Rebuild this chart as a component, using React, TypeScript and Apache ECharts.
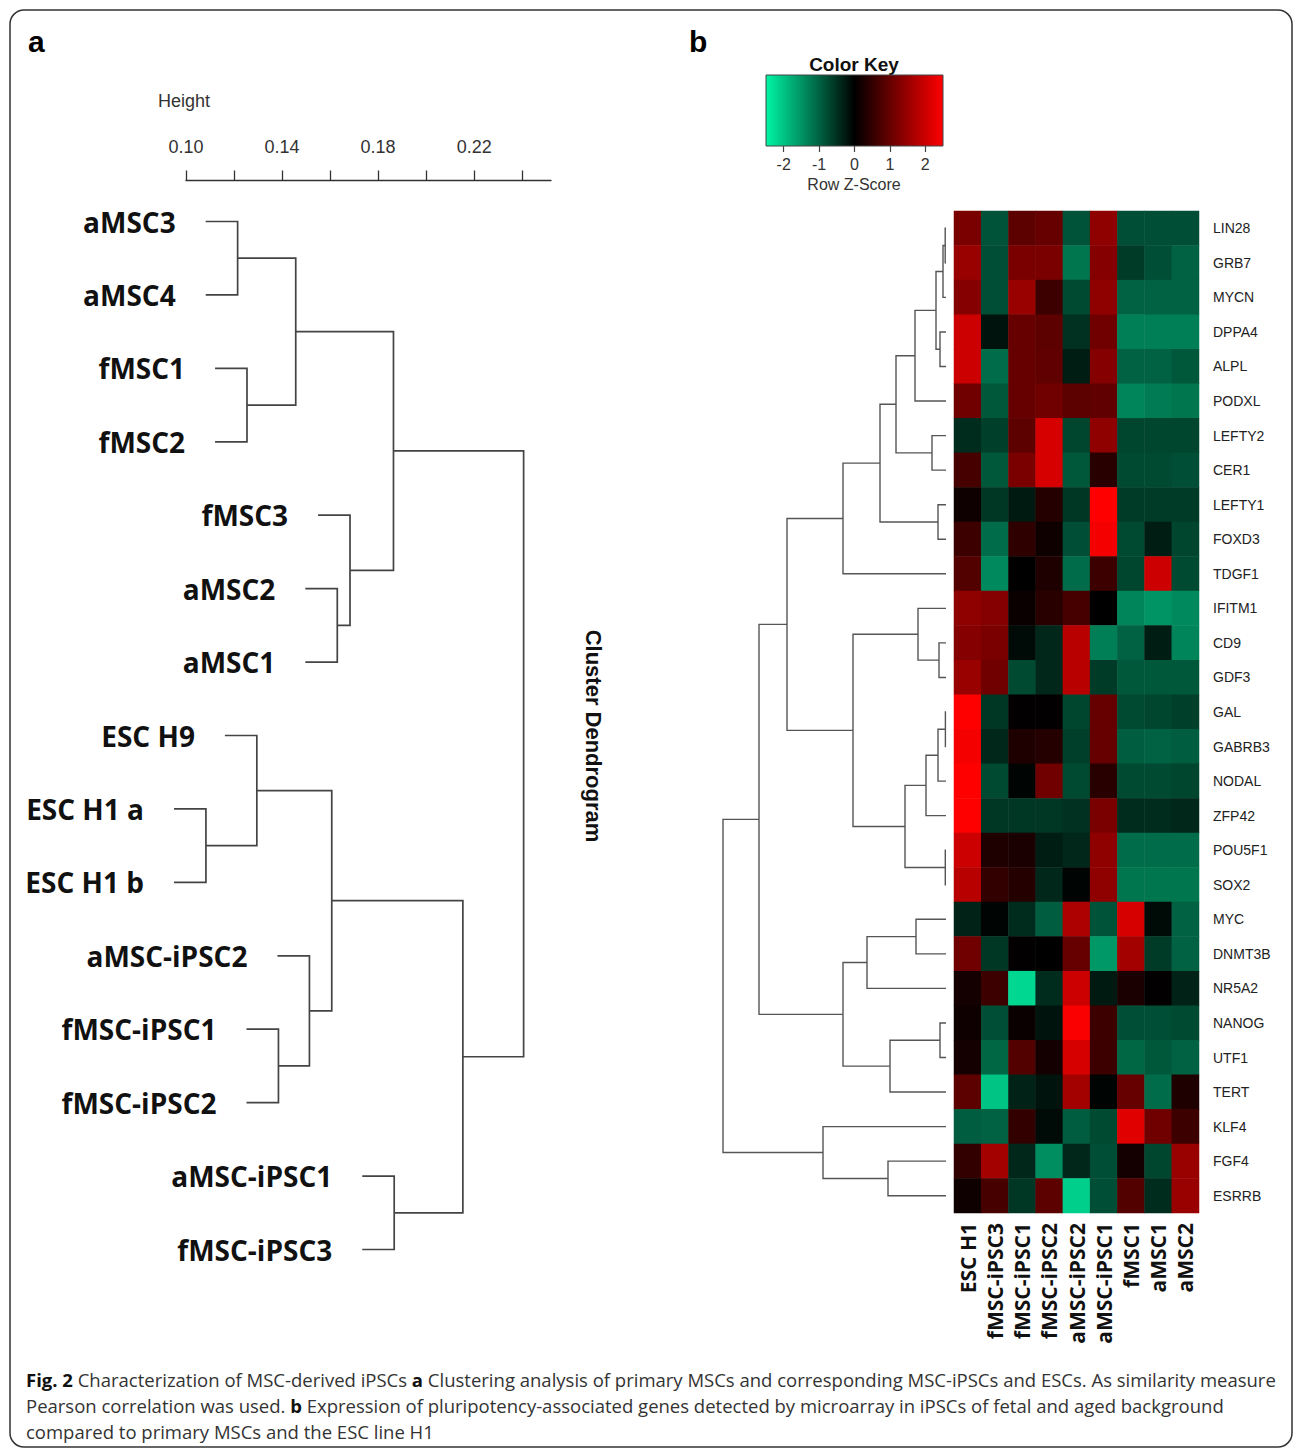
import React, { useEffect, useRef } from "react";
import * as echarts from "echarts";

// ---------- Panel a: cluster dendrogram ----------
const leavesA = [
  "aMSC3", "aMSC4", "fMSC1", "fMSC2", "fMSC3", "aMSC2", "aMSC1",
  "ESC H9", "ESC H1 a", "ESC H1 b", "aMSC-iPSC2", "fMSC-iPSC1",
  "fMSC-iPSC2", "aMSC-iPSC1", "fMSC-iPSC3",
];
// hclust-style merges: negative = leaf (1-based), positive = earlier merge (1-based)
const mergeA = [
  [-9, -10], [-1, -2], [-3, -4], [-8, 1], [-12, -13], [2, 3], [-11, 5],
  [4, 7], [-6, -7], [-5, 9], [6, 10], [-14, -15], [8, 12], [11, 13],
];
const heightA = [
  0.1083, 0.1215, 0.1254, 0.1295, 0.1385, 0.1457, 0.1514,
  0.1607, 0.163, 0.1683, 0.1864, 0.1867, 0.2153, 0.2406,
];
const hangA = 0.0133;
const heightTicks = [0.1, 0.12, 0.14, 0.16, 0.18, 0.2, 0.22, 0.24];
const heightTickLabels = [0.1, 0.14, 0.18, 0.22];

// ---------- Panel b: heatmap ----------
const sampleCols = [
  "ESC H1", "fMSC-iPSC3", "fMSC-iPSC1", "fMSC-iPSC2", "aMSC-iPSC2",
  "aMSC-iPSC1", "fMSC1", "aMSC1", "aMSC2",
];
const genes = [
  "LIN28", "GRB7", "MYCN", "DPPA4", "ALPL", "PODXL", "LEFTY2", "CER1",
  "LEFTY1", "FOXD3", "TDGF1", "IFITM1", "CD9", "GDF3", "GAL", "GABRB3",
  "NODAL", "ZFP42", "POU5F1", "SOX2", "MYC", "DNMT3B", "NR5A2", "NANOG",
  "UTF1", "TERT", "KLF4", "FGF4", "ESRRB",
];
const zLIN28 = [1.2, -0.85, 0.9, 1.0, -0.85, 1.4, -0.8, -0.8, -0.8];
const zGRB7 = [1.5, -0.8, 1.2, 1.2, -1.2, 1.3, -0.6, -0.8, -1.0];
const zMYCN = [1.3, -0.8, 1.5, 0.6, -0.75, 1.4, -1.0, -1.0, -1.0];
const zDPPA4 = [2.0, -0.2, 1.0, 0.9, -0.5, 1.1, -1.3, -1.3, -1.3];
const zALPL = [2.0, -1.1, 1.0, 0.95, -0.3, 1.3, -1.0, -1.0, -0.9];
const zPODXL = [1.1, -0.9, 1.0, 1.1, 0.9, 0.95, -1.35, -1.25, -1.2];
const zLEFTY2 = [-0.45, -0.65, 0.9, 2.1, -0.7, 1.4, -0.7, -0.7, -0.7];
const zCER1 = [0.7, -0.9, 1.2, 2.1, -0.9, 0.4, -0.75, -0.75, -0.8];
const zLEFTY1 = [0.15, -0.55, -0.25, 0.35, -0.55, 2.5, -0.6, -0.6, -0.6];
const zFOXD3 = [0.6, -1.1, 0.45, 0.15, -0.8, 2.4, -0.75, -0.3, -0.7];
const zTDGF1 = [0.8, -1.4, 0.0, 0.3, -1.1, 0.6, -0.7, 2.0, -0.75];
const zIFITM1 = [1.4, 1.3, 0.1, 0.4, 0.7, 0.0, -1.35, -1.5, -1.4];
const zCD9 = [1.3, 1.2, -0.1, -0.4, 1.8, -1.3, -1.0, -0.3, -1.35];
const zGDF3 = [1.5, 1.1, -0.75, -0.4, 1.8, -0.6, -0.9, -0.9, -0.9];
const zGAL = [2.5, -0.55, 0.02, 0.02, -0.7, 1.0, -0.75, -0.7, -0.65];
const zGABRB3 = [2.4, -0.4, 0.3, 0.35, -0.65, 1.0, -0.95, -1.0, -0.95];
const zNODAL = [2.5, -0.75, -0.05, 1.1, -0.75, 0.4, -0.75, -0.75, -0.7];
const zZFP42 = [2.5, -0.55, -0.55, -0.55, -0.5, 1.2, -0.45, -0.45, -0.4];
const zPOU5F1 = [2.0, 0.3, 0.25, -0.3, -0.4, 1.4, -1.1, -1.1, -1.1];
const zSOX2 = [1.8, 0.5, 0.35, -0.4, -0.05, 1.4, -1.2, -1.2, -1.2];
const zMYC = [-0.35, -0.05, -0.45, -0.95, 1.7, -0.85, 2.1, -0.1, -1.0];
const zDNMT3B = [1.1, -0.55, 0.02, 0.0, 1.0, -1.55, 1.6, -0.6, -1.0];
const zNR5A2 = [0.2, 0.6, -2.2, -0.45, 2.0, -0.25, 0.25, 0.02, -0.35];
const zNANOG = [0.15, -0.8, 0.1, -0.2, 2.45, 0.6, -0.8, -0.8, -0.75];
const zUTF1 = [0.2, -1.05, 0.8, 0.2, 2.1, 0.6, -1.05, -0.9, -1.0];
const zTERT = [0.9, -2.0, -0.35, -0.2, 1.6, -0.05, 1.0, -1.1, 0.3];
const zKLF4 = [-0.95, -1.0, 0.5, -0.1, -0.95, -0.75, 2.2, 1.1, 0.6];
const zFGF4 = [0.5, 1.6, -0.4, -1.45, -0.4, -0.8, 0.2, -0.7, 1.5];
const zESRRB = [0.15, 0.7, -0.55, 0.9, -2.1, -0.8, 0.8, -0.45, 1.5];
const zScores = [
  zLIN28, zGRB7, zMYCN, zDPPA4, zALPL, zPODXL, zLEFTY2, zCER1, zLEFTY1,
  zFOXD3, zTDGF1, zIFITM1, zCD9, zGDF3, zGAL, zGABRB3, zNODAL, zZFP42,
  zPOU5F1, zSOX2, zMYC, zDNMT3B, zNR5A2, zNANOG, zUTF1, zTERT, zKLF4,
  zFGF4, zESRRB,
];

// row dendrogram of the heatmap
const mergeB = [
  [-1, -2], [1, -3], [-4, -5], [2, 3], [4, -6], [-7, -8], [5, 6], [-9, -10],
  [7, 8], [9, -11], [-13, -14], [-12, 11], [-15, -16], [13, -17], [14, -18],
  [-19, -20], [15, 16], [12, 17], [10, 18], [-21, -22], [20, -23], [-24, -25],
  [22, -26], [21, 23], [19, 24], [-28, -29], [-27, 26], [25, 27],
];
const heightB = [
  0.008, 0.03, 0.06, 0.1, 0.31, 0.14, 0.5, 0.08, 0.66, 1.03, 0.07, 0.28,
  0.006, 0.08, 0.2, 0.007, 0.41, 0.93, 1.59, 0.3, 0.79, 0.06, 0.56, 1.03,
  1.87, 0.58, 1.23, 2.23,
];

const keyTicks = [-2, -1, 0, 1, 2];
const keyColors = ["#00F5A5", "#000000", "#FF0000"];

const captionLines = [
  "{b|Fig. 2} Characterization of MSC-derived iPSCs {b|a} Clustering analysis of primary MSCs and corresponding MSC-iPSCs and ESCs. As similarity measure",
  "Pearson correlation was used. {b|b} Expression of pluripotency-associated genes detected by microarray in iPSCs of fetal and aged background",
  "compared to primary MSCs and the ESC line H1",
];

function buildTree(merges: number[][], heights: number[], leafH: (h: number) => number) {
  const nodeY: number[] = [];
  const nodeH: number[] = [];
  const segs: number[][] = [];
  const leafStarts: number[][] = [];
  merges.forEach(([a, b], k) => {
    const h = heights[k];
    const info = (c: number) =>
      c < 0 ? { y: -c - 1, h: leafH(h) } : { y: nodeY[c - 1], h: nodeH[c - 1] };
    const A = info(a);
    const B = info(b);
    nodeY[k] = (A.y + B.y) / 2;
    nodeH[k] = h;
    segs.push([h, A.y, B.y, A.h, B.h]);
    if (a < 0) leafStarts.push([A.h, A.y]);
    if (b < 0) leafStarts.push([B.h, B.y]);
  });
  return { segs, leafStarts };
}

const LS = '"Liberation Sans", Arial, sans-serif';
const OS = '"Open Sans", sans-serif';
const CAP = 18.5;

export default function App() {
  const ref = useRef<HTMLDivElement>(null);
  useEffect(() => {
    if (!ref.current) return;
    const chart = echarts.init(ref.current, null, { renderer: "svg" });
    const treeA = buildTree(mergeA, heightA, (h) => h - hangA);
    const treeB = buildTree(mergeB, heightB, () => 0);
    const heatData: number[][] = [];
    zScores.forEach((row, r) => row.forEach((v, c) => heatData.push([c, r, v])));

    const dendroRender = (color: string, width: number) => (params: any, api: any) => {
      const h = api.value(0), ya = api.value(1), yb = api.value(2);
      const ha = api.value(3), hb = api.value(4);
      return {
        type: "polyline",
        shape: {
          points: [api.coord([ha, ya]), api.coord([h, ya]), api.coord([h, yb]), api.coord([hb, yb])],
        },
        style: { stroke: color, lineWidth: width, fill: "none" },
      };
    };

    const option: any = {
      animation: false,
      grid: [
        { left: 186, top: 221.5, width: 365, height: 1028 },
        { left: 954, top: 211, width: 245, height: 1002 },
        { left: 722, top: 211, width: 224, height: 1002 },
        { left: 766, top: 75, width: 177, height: 71 },
      ],
      xAxis: [
        {
          gridIndex: 0, type: "value", min: 0.1, max: 0.252, position: "top", offset: 41,
          axisLine: { show: true, onZero: false, lineStyle: { color: "#333", width: 1.3 } },
          axisTick: { show: true, length: 10, customValues: heightTicks, lineStyle: { color: "#333", width: 1.3 } },
          axisLabel: {
            customValues: heightTickLabels, formatter: (v: number) => v.toFixed(2),
            margin: 25, fontSize: 18, color: "#333", fontFamily: LS,
          },
          splitLine: { show: false },
        },
        {
          gridIndex: 1, type: "category", data: sampleCols, position: "bottom",
          axisLine: { show: false }, axisTick: { show: false },
          axisLabel: { interval: 0, rotate: 90, margin: 10, fontSize: 21, fontWeight: "bold", fontFamily: OS, color: "#111" },
        },
        { gridIndex: 2, type: "value", min: 0, max: 2.24, inverse: true, show: false },
        {
          gridIndex: 3, type: "value", min: -2.5, max: 2.5, position: "bottom",
          axisLine: { show: false },
          axisTick: { show: true, length: 6, customValues: keyTicks, lineStyle: { color: "#444", width: 1.2 } },
          axisLabel: { customValues: keyTicks, margin: 10, fontSize: 16, color: "#333", fontFamily: LS },
          splitLine: { show: false },
        },
      ],
      yAxis: [
        { gridIndex: 0, type: "value", min: 0, max: 14, inverse: true, show: false },
        {
          gridIndex: 1, type: "category", data: genes, inverse: true, position: "right",
          axisLine: { show: false }, axisTick: { show: false },
          axisLabel: { interval: 0, margin: 14, fontSize: 14, color: "#222", fontFamily: LS },
        },
        { gridIndex: 2, type: "value", min: -0.5, max: 28.5, inverse: true, show: false },
        { gridIndex: 3, type: "value", min: 0, max: 1, show: false },
      ],
      visualMap: {
        type: "continuous", min: -2.5, max: 2.5, show: false, seriesIndex: 0,
        inRange: { color: keyColors },
      },
      series: [
        {
          type: "heatmap", xAxisIndex: 1, yAxisIndex: 1, data: heatData,
          itemStyle: { borderWidth: 0 }, emphasis: { disabled: true },
        },
        {
          type: "custom", xAxisIndex: 0, yAxisIndex: 0, data: treeA.segs,
          renderItem: dendroRender("#444", 1.7), silent: true,
        },
        {
          type: "custom", xAxisIndex: 0, yAxisIndex: 0, data: treeA.leafStarts,
          silent: true,
          renderItem: (params: any, api: any) => {
            const p = api.coord([api.value(0), api.value(1)]);
            return {
              type: "text", x: p[0] - 30, y: p[1],
              style: {
                text: leavesA[api.value(1)], fontSize: 28, fontWeight: "bold", fontFamily: OS,
                fill: "#111", align: "right", verticalAlign: "middle",
                textAlign: "right", textVerticalAlign: "middle",
              },
            };
          },
        },
        {
          type: "custom", xAxisIndex: 2, yAxisIndex: 2, data: treeB.segs,
          renderItem: dendroRender("#555", 1.4), silent: true,
        },
        {
          type: "custom", xAxisIndex: 3, yAxisIndex: 3, data: [[-2.5, 2.5]], silent: true,
          renderItem: (params: any, api: any) => {
            const p0 = api.coord([api.value(0), 1]);
            const p1 = api.coord([api.value(1), 0]);
            return {
              type: "rect",
              shape: { x: p0[0], y: p0[1], width: p1[0] - p0[0], height: p1[1] - p0[1] },
              style: {
                fill: new echarts.graphic.LinearGradient(0, 0, 1, 0, [
                  { offset: 0, color: keyColors[0] },
                  { offset: 0.5, color: keyColors[1] },
                  { offset: 1, color: keyColors[2] },
                ]),
                stroke: "#444", lineWidth: 1,
              },
            };
          },
        },
      ],
      graphic: [
        {
          type: "rect", shape: { x: 10, y: 10, width: 1282, height: 1437, r: 14 },
          style: { fill: "none", stroke: "#333", lineWidth: 1.5 }, z: -10,
        },
        { type: "text", x: 28, y: 41, style: { text: "a", fontSize: 30, fontWeight: "bold", fontFamily: LS, fill: "#000", verticalAlign: "middle", textVerticalAlign: "middle" } },
        { type: "text", x: 689, y: 41, style: { text: "b", fontSize: 30, fontWeight: "bold", fontFamily: LS, fill: "#000", verticalAlign: "middle", textVerticalAlign: "middle" } },
        { type: "text", x: 158, y: 101, style: { text: "Height", fontSize: 18, fontFamily: LS, fill: "#333", verticalAlign: "middle", textVerticalAlign: "middle" } },
        {
          type: "text", x: 593, y: 736, rotation: -Math.PI / 2,
          style: { text: "Cluster Dendrogram", fontSize: 22, fontWeight: "bold", fontFamily: LS, fill: "#111", align: "center", verticalAlign: "middle", textAlign: "center", textVerticalAlign: "middle" },
        },
        { type: "text", x: 854, y: 64, style: { text: "Color Key", fontSize: 19, fontWeight: "bold", fontFamily: LS, fill: "#111", align: "center", verticalAlign: "middle", textAlign: "center", textVerticalAlign: "middle" } },
        { type: "text", x: 854, y: 184, style: { text: "Row Z-Score", fontSize: 16, fontFamily: LS, fill: "#333", align: "center", verticalAlign: "middle", textAlign: "center", textVerticalAlign: "middle" } },
        ...captionLines.map((t, i) => ({
          type: "text", x: 26, y: 1379 + i * 26,
          style: {
            text: t, fontSize: CAP, fontFamily: OS, fill: "#333",
            verticalAlign: "middle", textVerticalAlign: "middle",
            rich: { b: { fontSize: CAP, fontFamily: OS, fontWeight: "bold", fill: "#111" } },
          },
        })),
      ],
    };
    chart.setOption(option);
    return () => chart.dispose();
  }, []);
  return (
    <div
      ref={ref}
      style={{ position: "absolute", left: 0, top: 0, width: 1295, height: 1451, background: "#fff" }}
    />
  );
}
